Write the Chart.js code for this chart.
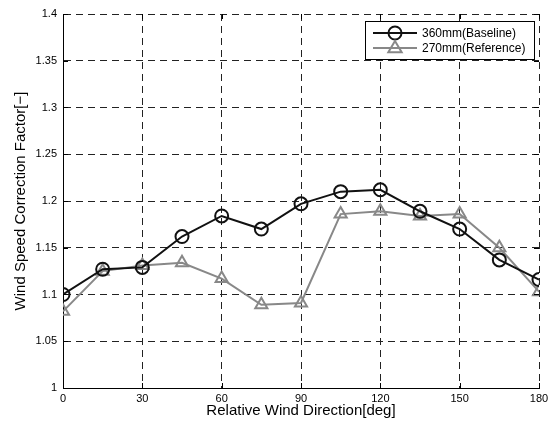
<!DOCTYPE html>
<html lang="en">
<head>
  <meta charset="UTF-8" />
  <title>Wind Speed Correction Factor</title>
  <style>
    body { margin: 0; background: #fff; }
    .wrap { width: 554px; height: 430px; }
  </style>
</head>
<body>
  <div class="wrap"><canvas id="chart" width="554" height="430"></canvas></div>

  <script src="https://cdn.jsdelivr.net/npm/chart.js"></script>
  <script>
    // relative wind direction [deg]
    const directions = [0, 15, 30, 45, 60, 75, 90, 105, 120, 135, 150, 165, 180];
    const baseline360 = [1.100, 1.127, 1.129, 1.162, 1.184, 1.170, 1.197, 1.210, 1.212, 1.189, 1.170, 1.137, 1.116];
    const reference270 = [1.082, 1.125, 1.131, 1.134, 1.117, 1.089, 1.091, 1.186, 1.189, 1.184, 1.186, 1.150, 1.103];
    const seriesLabels = ["360mm(Baseline)", "270mm(Reference)"];
    const xTicks = [0, 30, 60, 90, 120, 150, 180];
    const yTicks = [1, 1.05, 1.1, 1.15, 1.2, 1.25, 1.3, 1.35, 1.4];

    const FONT = "'Liberation Sans', Arial, sans-serif";

    function toPoints(ys) {
      return directions.map((x, i) => ({ x: x, y: ys[i] }));
    }

    function drawMarker(ctx, style, x, y, r) {
      ctx.beginPath();
      if (style === "triangle") {
        ctx.moveTo(x, y - r);
        ctx.lineTo(x + r * 0.95, y + r * 0.6);
        ctx.lineTo(x - r * 0.95, y + r * 0.6);
        ctx.closePath();
      } else {
        ctx.arc(x, y, r, 0, Math.PI * 2);
      }
      ctx.stroke();
    }

    // inward tick marks on all four sides, like the original plot
    const innerTicks = {
      id: "innerTicks",
      afterDatasetsDraw(chart) {
        const { ctx, chartArea: a, scales } = chart;
        const len = 5;
        ctx.save();
        ctx.strokeStyle = "#000";
        ctx.lineWidth = 1;
        ctx.beginPath();
        xTicks.forEach(v => {
          const px = Math.round(scales.x.getPixelForValue(v)) + 0.5;
          ctx.moveTo(px, a.bottom); ctx.lineTo(px, a.bottom - len);
          ctx.moveTo(px, a.top); ctx.lineTo(px, a.top + len);
        });
        yTicks.forEach(v => {
          const py = Math.round(scales.y.getPixelForValue(v)) + 0.5;
          ctx.moveTo(a.left, py); ctx.lineTo(a.left + len, py);
          ctx.moveTo(a.right, py); ctx.lineTo(a.right - len, py);
        });
        ctx.stroke();
        ctx.restore();
      }
    };

    // boxed legend inside the top right corner of the plot
    const boxLegend = {
      id: "boxLegend",
      afterDraw(chart) {
        const { ctx, chartArea: a } = chart;
        const bx = a.right - 174, by = a.top + 7, bw = 169, bh = 38;
        ctx.save();
        ctx.fillStyle = "#fff";
        ctx.fillRect(bx, by, bw, bh);
        ctx.strokeStyle = "#000";
        ctx.lineWidth = 1;
        ctx.strokeRect(bx + 0.5, by + 0.5, bw, bh);
        chart.data.datasets.forEach((ds, i) => {
          const cy = by + 12 + i * 15;
          ctx.strokeStyle = ds.borderColor;
          ctx.lineWidth = ds.borderWidth;
          ctx.beginPath();
          ctx.moveTo(bx + 8, cy);
          ctx.lineTo(bx + 52, cy);
          ctx.stroke();
          ctx.lineWidth = ds.pointBorderWidth;
          drawMarker(ctx, ds.pointStyle, bx + 30, cy, ds.pointRadius);
          ctx.fillStyle = "#000";
          ctx.font = "12px " + FONT;
          ctx.textBaseline = "middle";
          ctx.fillText(ds.label, bx + 57, cy + 1);
        });
        ctx.restore();
      }
    };

    const gridStyle = {
      color: "#222",
      lineWidth: 1,
      drawTicks: false
    };

    new Chart(document.getElementById("chart"), {
      type: "line",
      data: {
        datasets: [
          {
            label: seriesLabels[0],
            data: toPoints(baseline360),
            borderColor: "#111",
            borderWidth: 2,
            pointStyle: "circle",
            pointRadius: 6.5,
            pointBorderWidth: 2,
            pointBackgroundColor: "rgba(0,0,0,0)",
            pointBorderColor: "#111",
            tension: 0
          },
          {
            label: seriesLabels[1],
            data: toPoints(reference270),
            borderColor: "#888",
            borderWidth: 2,
            pointStyle: "triangle",
            pointRadius: 7,
            pointBorderWidth: 2,
            pointBackgroundColor: "rgba(0,0,0,0)",
            pointBorderColor: "#888",
            tension: 0
          }
        ]
      },
      options: {
        responsive: false,
        animation: false,
        layout: { padding: { top: 14, right: 15, left: 0, bottom: 0 } },
        plugins: {
          legend: { display: false },
          tooltip: { enabled: false }
        },
        scales: {
          x: {
            type: "linear",
            min: 0,
            max: 180,
            afterBuildTicks: s => { s.ticks = xTicks.map(v => ({ value: v })); },
            afterFit: s => { s.height = 42; },
            grid: gridStyle,
            border: { display: true, color: "#000", width: 1, dash: [7, 5] },
            ticks: {
              color: "#000",
              padding: 4,
              font: { family: FONT, size: 11 }
            },
            title: {
              display: true,
              text: "Relative Wind Direction[deg]",
              color: "#000",
              padding: { bottom: 10 },
              font: { family: FONT, size: 15 }
            }
          },
          y: {
            min: 1,
            max: 1.4,
            afterBuildTicks: s => { s.ticks = yTicks.map(v => ({ value: v })); },
            afterFit: s => { s.width = 63; },
            grid: gridStyle,
            border: { display: true, color: "#000", width: 1, dash: [7, 5] },
            ticks: {
              color: "#000",
              padding: 6,
              font: { family: FONT, size: 11 },
              callback: v => String(+v.toFixed(2))
            },
            title: {
              display: true,
              text: "Wind Speed Correction Factor[−]",
              color: "#000",
              padding: { top: 12 },
              font: { family: FONT, size: 15 }
            }
          }
        }
      },
      plugins: [innerTicks, boxLegend]
    });
  </script>
</body>
</html>
